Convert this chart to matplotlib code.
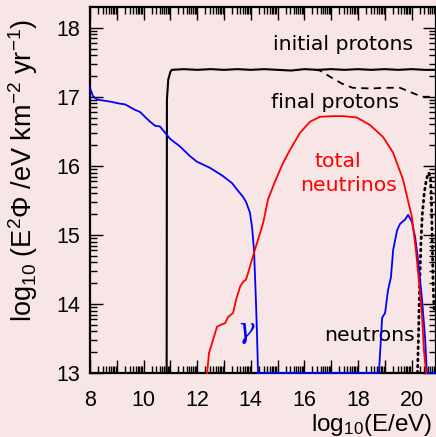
import numpy as np
import matplotlib
matplotlib.use("Agg")
import matplotlib.pyplot as plt
from matplotlib.ticker import FixedLocator, FuncFormatter

# ---- data: log10 of E^2 * flux versus log10 energy ----
proton_init_x = [10.86, 10.87, 10.92, 11.0, 11.05, 11.5, 12.0, 12.5, 13.0, 13.5, 14.0, 14.5,
                 15.0, 15.5, 16.0, 16.5, 17.0, 17.5, 18.0, 18.5, 19.0, 19.5, 20.0, 20.5, 20.91]
proton_init_y = [13.0, 16.96, 17.25, 17.36, 17.39, 17.40, 17.39, 17.40, 17.39, 17.40, 17.39, 17.40,
                 17.39, 17.38, 17.40, 17.39, 17.40, 17.39, 17.40, 17.39, 17.40, 17.39, 17.40, 17.39, 17.39]

proton_final_x = [16.4, 16.58, 17.0, 17.4, 17.8, 18.5, 19.0, 19.57, 20.0, 20.4, 20.5, 20.91]
proton_final_y = [17.39, 17.38, 17.28, 17.19, 17.13, 17.12, 17.13, 17.13, 17.06, 17.0, 17.0, 17.0]

gamma_x = [8.0, 8.11, 8.26, 8.75, 9.12, 9.31, 9.68, 9.87, 10.05, 10.24, 10.43, 10.61, 10.80,
           10.99, 11.36, 11.73, 11.99, 12.48, 12.93, 13.30, 13.52, 13.71, 13.82, 13.97, 14.05,
           14.12, 14.19, 14.23, 14.27, 18.78, 18.90, 19.01, 19.12, 19.23, 19.31, 19.46, 19.57,
           19.75, 19.87, 20.01, 20.13, 20.24, 20.39, 20.50, 20.57, 20.91]
gamma_y = [17.13, 17.01, 16.96, 16.93, 16.90, 16.89, 16.81, 16.78, 16.71, 16.64, 16.58, 16.57, 16.48,
           16.39, 16.28, 16.14, 16.06, 15.97, 15.86, 15.75, 15.64, 15.55, 15.48, 15.32, 15.10,
           14.78, 14.06, 13.58, 13.0, 13.0, 13.80, 13.87, 14.20, 14.39, 14.78, 15.07, 15.16,
           15.22, 15.29, 15.19, 14.97, 14.64, 14.06, 13.52, 13.0, 13.0]

nu_x = [12.37, 12.44, 12.59, 12.74, 12.89, 13.04, 13.15, 13.34, 13.45, 13.60, 13.71, 13.82, 13.93,
        14.04, 14.23, 14.46, 14.64, 14.90, 15.20, 15.46, 15.84, 16.21, 16.58, 17.07, 17.44, 17.96,
        18.45, 18.93, 19.31, 19.68, 20.01, 20.16, 20.28, 20.39, 20.46, 20.54]
nu_y = [13.0, 13.29, 13.48, 13.67, 13.70, 13.72, 13.81, 13.87, 14.06, 14.25, 14.32, 14.35, 14.49,
        14.64, 14.88, 15.17, 15.51, 15.77, 16.04, 16.23, 16.48, 16.64, 16.71, 16.72, 16.72, 16.70,
        16.59, 16.42, 16.19, 15.80, 15.26, 14.78, 14.30, 13.81, 13.33, 13.0]

neutron_x = [20.22, 20.26, 20.30, 20.35, 20.40, 20.47, 20.55, 20.63, 20.70, 20.74, 20.77, 20.80, 20.84]
neutron_y = [13.0, 13.6, 14.3, 14.9, 15.3, 15.6, 15.8, 15.9, 15.85, 15.5, 14.9, 14.3, 13.9]

x_labels = [8, 10, 12, 14, 16, 18, 20]
y_labels = [13, 14, 15, 16, 17, 18]

BG = "#f8e6e6"
plt.rcParams["mathtext.fontset"] = "custom"
plt.rcParams["mathtext.rm"] = "Liberation Sans"
plt.rcParams["mathtext.it"] = "Liberation Sans:italic"

fig = plt.figure(figsize=(4.36, 4.37), dpi=100, facecolor=BG)
ax = fig.add_axes([90 / 436, 64 / 437, 346 / 436, 366 / 437])
ax.set_facecolor(BG)
ax.set_xlim(8, 20.91)
ax.set_ylim(13, 18.3)

lw = 1.3
ax.plot(proton_init_x, proton_init_y, color="black", lw=1.5, clip_on=False, zorder=4)
ax.plot(proton_final_x, proton_final_y, color="black", lw=1.3, ls=(0, (4, 3)), zorder=4)
ax.plot(gamma_x, gamma_y, color="#0000ff", lw=lw, clip_on=False, zorder=5)
ax.plot(nu_x, nu_y, color="#ff0000", lw=lw, clip_on=False, zorder=5)
ax.plot(neutron_x, neutron_y, color="black", lw=2.0, ls=(0, (0.6, 1.6)),
        dash_capstyle="round", zorder=4)

# log-style ticks: integers as major, n + log10(k) as minor
def minor_positions(lo, hi):
    out = []
    for n in range(lo, hi + 1):
        for k in range(2, 10):
            out.append(n + np.log10(k))
    return out

ax.xaxis.set_major_locator(FixedLocator(list(range(8, 22))))
ax.xaxis.set_minor_locator(FixedLocator(minor_positions(7, 21)))
ax.yaxis.set_major_locator(FixedLocator(list(range(13, 19))))
ax.yaxis.set_minor_locator(FixedLocator(minor_positions(12, 18)))
ax.xaxis.set_major_formatter(FuncFormatter(lambda v, p: f"{int(round(v))}" if int(round(v)) in x_labels else ""))
ax.yaxis.set_major_formatter(FuncFormatter(lambda v, p: f"{int(round(v))}" if int(round(v)) in y_labels else ""))

ax.tick_params(which="both", direction="in", top=True, right=True, width=1.0, color="black")
ax.tick_params(which="major", length=9.5)
ax.tick_params(which="minor", length=5)
ax.tick_params(axis="x", which="major", pad=12, labelsize=15.5)
ax.tick_params(axis="y", which="major", pad=7, labelsize=15.5)
for lab in ax.get_xticklabels() + ax.get_yticklabels():
    lab.set_family("Liberation Sans")
for sp in ax.spines.values():
    sp.set_linewidth(1.6)

fig.text(23 / 436, 1 - 171 / 437, r"log$_{10}$ (E$^{2}\Phi$ /eV km$^{-2}$ yr$^{-1}$)",
         fontsize=19.5, family="Liberation Sans", rotation=90, ha="center", va="center")
fig.text(432 / 436, 1 - 425 / 437, r"log$_{10}$(E/eV)", fontsize=17.5, family="Liberation Sans",
         ha="right", va="center")

ax.text(17.44, 17.75, "initial protons", fontsize=14.7, ha="center", va="center", color="black")
ax.text(17.14, 16.91, "final protons", fontsize=14.7, ha="center", va="center", color="black")
ax.text(17.25, 16.06, "total", fontsize=14.7, ha="center", va="center", color="#ff0000")
ax.text(17.66, 15.71, "neutrinos", fontsize=14.7, ha="center", va="center", color="#ff0000")
ax.text(18.43, 13.55, "neutrons", fontsize=14.7, ha="center", va="center", color="black")
ax.text(13.82, 13.62, "γ", fontsize=20, ha="center", va="center", color="#0000ff",
        family="DejaVu Serif", style="italic")

fig.savefig("out.png", dpi=100, facecolor=BG)
